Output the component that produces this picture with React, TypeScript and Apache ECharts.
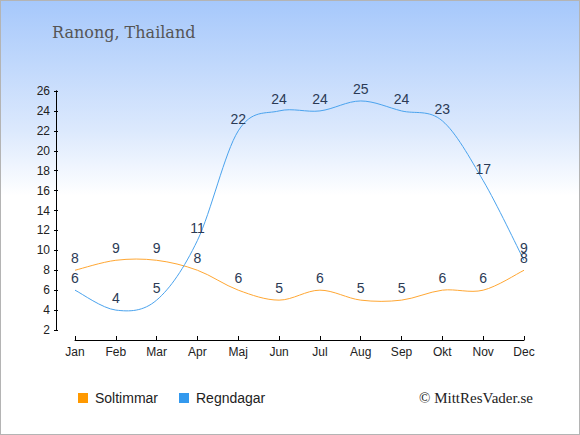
import React, { useEffect, useRef } from "react";
import * as echarts from "echarts";

const months = ["Jan", "Feb", "Mar", "Apr", "Maj", "Jun", "Jul", "Aug", "Sep", "Okt", "Nov", "Dec"];
const soltimmar = [8, 9, 9, 8, 6, 5, 6, 5, 5, 6, 6, 8];
const regndagar = [6, 4, 5, 11, 22, 24, 24, 25, 24, 23, 17, 9];
const titleText = "Ranong, Thailand";
const copyrightText = "© MittResVader.se";

function splineSeries(values: number[], color: string) {
  return {
    type: "custom",
    silent: true,
    data: values.map((v, i) => [i, v]),
    encode: { x: 0, y: 1 },
    z: 3,
    renderItem: (params: any, api: any) => {
      const i = params.dataIndex;
      if (i >= values.length - 1) return null;
      const pt = (k: number) => {
        const kk = Math.max(0, Math.min(values.length - 1, k));
        return api.coord([kk, values[kk]]);
      };
      const p0 = pt(i - 1);
      const p1 = pt(i);
      const p2 = pt(i + 1);
      const p3 = pt(i + 2);
      const t = 1 / 6;
      return {
        type: "bezierCurve",
        shape: {
          x1: p1[0],
          y1: p1[1],
          x2: p2[0],
          y2: p2[1],
          cpx1: p1[0] + (p2[0] - p0[0]) * t,
          cpy1: p1[1] + (p2[1] - p0[1]) * t,
          cpx2: p2[0] - (p3[0] - p1[0]) * t,
          cpy2: p2[1] - (p3[1] - p1[1]) * t,
        },
        style: { stroke: color, lineWidth: 1, fill: "none" },
      };
    },
  };
}

export default function App() {
  const ref = useRef<HTMLDivElement>(null);
  useEffect(() => {
    if (!ref.current) return;
    const chart = echarts.init(ref.current, null, { renderer: "svg" });
    const sans = "Liberation Sans, Arial, sans-serif";
    const labelStyle = {
      show: true,
      position: "top" as const,
      distance: 5,
      color: "#2b3a55",
      fontSize: 14,
      fontFamily: sans,
    };
    const yBase = {
      type: "value" as const,
      min: 2,
      max: 26,
      interval: 2,
      position: "left" as const,
      offset: 19,
      splitLine: { show: false },
      axisLine: { show: true, lineStyle: { color: "#000", width: 1 } },
    };
    chart.setOption({
      animation: false,
      backgroundColor: "transparent",
      title: {
        text: titleText,
        left: 51,
        top: 23,
        padding: 0,
        textStyle: { fontFamily: "DejaVu Serif, serif", fontSize: 16, fontWeight: "normal", color: "#555" },
      },
      legend: {
        left: 77,
        top: 390,
        padding: 0,
        itemWidth: 10,
        itemHeight: 10,
        itemGap: 21,
        icon: "rect",
        textStyle: { fontFamily: sans, fontSize: 14, color: "#222", padding: [0, 0, 0, 2] },
        data: ["Soltimmar", "Regndagar"],
      },
      graphic: [
        {
          type: "text",
          x: 418,
          y: 397,
          style: {
            text: copyrightText,
            font: "15px 'Liberation Serif', serif",
            fill: "#222",
            verticalAlign: "middle",
          },
        },
      ],
      grid: { left: 74, right: 55, top: 90, bottom: 104, containLabel: false },
      xAxis: {
        type: "category",
        data: months,
        boundaryGap: false,
        offset: 10,
        axisLine: { show: true, lineStyle: { color: "#000", width: 1 } },
        axisTick: { show: true, inside: true, length: 4, alignWithLabel: true, lineStyle: { color: "#000" } },
        axisLabel: { color: "#222", fontSize: 12, margin: 6, fontFamily: sans },
      },
      yAxis: [
        {
          ...yBase,
          axisTick: { show: true, inside: false, length: 2, lineStyle: { color: "#000" } },
          axisLabel: { color: "#222", fontSize: 12, margin: 6, fontFamily: sans },
        },
        {
          ...yBase,
          axisTick: { show: true, inside: true, length: 2, lineStyle: { color: "#000" } },
          axisLabel: { show: false },
        },
      ],
      series: [
        {
          name: "Soltimmar",
          type: "line",
          data: soltimmar,
          showSymbol: true,
          symbol: "circle",
          symbolSize: 0.01,
          itemStyle: { color: "#ff9900" },
          lineStyle: { color: "#ffa733", width: 0, opacity: 0 },
          label: labelStyle,
          z: 4,
        },
        {
          name: "Regndagar",
          type: "line",
          data: regndagar,
          showSymbol: true,
          symbol: "circle",
          symbolSize: 0.01,
          itemStyle: { color: "#3399ee" },
          lineStyle: { color: "#4aa3ee", width: 0, opacity: 0 },
          label: labelStyle,
          z: 4,
        },
        splineSeries(soltimmar, "#ffa733"),
        splineSeries(regndagar, "#4aa3ee"),
      ],
    });
    return () => chart.dispose();
  }, []);
  return (
    <div
      style={{
        position: "fixed",
        left: 0,
        top: 0,
        width: 580,
        height: 435,
        boxSizing: "border-box",
        border: "1px solid #b4b4b4",
        background: "linear-gradient(to bottom, #a6c8fb 0%, #dce9fd 30%, #ffffff 45%, #ffffff 100%)",
      }}
    >
      <div ref={ref} style={{ width: 578, height: 433 }} />
    </div>
  );
}
